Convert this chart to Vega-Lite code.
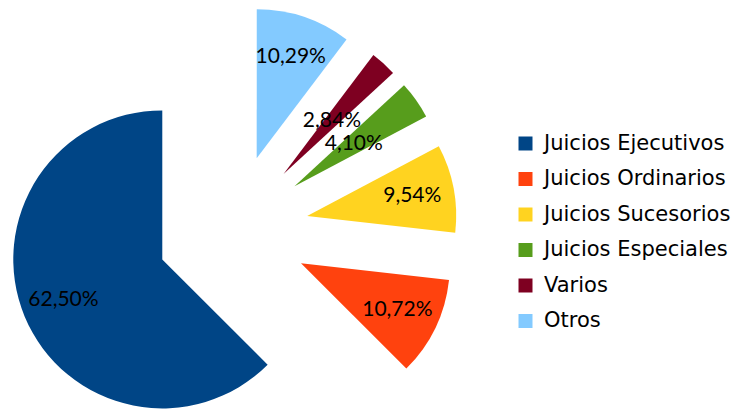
{
  "$schema": "https://vega.github.io/schema/vega-lite/v6.json",
  "width": 736,
  "height": 411,
  "padding": 0,
  "autosize": {"type": "none"},
  "background": "white",
  "config": {
    "view": {"stroke": null},
    "locale": {"number": {"decimal": ",", "thousands": ".", "grouping": [3], "currency": ["", " €"]}}
  },
  "data": {
    "values": [
      {"tipo": "Juicios Ejecutivos", "pct": 0.6250},
      {"tipo": "Juicios Ordinarios", "pct": 0.1072},
      {"tipo": "Juicios Sucesorios", "pct": 0.0954},
      {"tipo": "Juicios Especiales", "pct": 0.0410},
      {"tipo": "Varios", "pct": 0.0284},
      {"tipo": "Otros", "pct": 0.1029}
    ]
  },
  "transform": [
    {"stack": "pct", "groupby": [], "as": ["v0", "v1"]},
    {"calculate": "(datum.v0 + datum.v1) / 2", "as": "mid"},
    {"calculate": "-sin(2 * PI * datum.mid)", "as": "ex"},
    {"calculate": "cos(2 * PI * datum.mid)", "as": "ey"}
  ],
  "encoding": {
    "x": {"field": "ex", "type": "quantitative", "axis": null, "scale": {"domain": [-1, 1], "range": [156.5, 308.5], "nice": false, "zero": false}},
    "y": {"field": "ey", "type": "quantitative", "axis": null, "scale": {"domain": [-1, 1], "range": [306.3, 154.3], "nice": false, "zero": false}}
  },
  "layer": [
    {
      "mark": {"type": "arc", "radius": 149},
      "encoding": {
        "theta": {"field": "v0", "type": "quantitative", "stack": null, "scale": {"domain": [0, 1], "range": [6.283185307179586, 0]}},
        "theta2": {"field": "v1"},
        "color": {
          "field": "tipo",
          "type": "nominal",
          "scale": {
            "domain": ["Juicios Ejecutivos", "Juicios Ordinarios", "Juicios Sucesorios", "Juicios Especiales", "Varios", "Otros"],
            "range": ["#004586", "#ff420e", "#ffd320", "#579d1c", "#7e0021", "#83caff"]
          },
          "legend": {
            "orient": "none",
            "legendX": 515,
            "legendY": 133,
            "title": null,
            "symbolType": "square",
            "symbolSize": 196,
            "symbolStrokeWidth": 0,
            "labelFont": "DejaVu Sans",
            "labelFontSize": 21,
            "labelColor": "black",
            "labelOffset": 8,
            "labelLimit": 300,
            "rowPadding": 13.5,
            "padding": 0
          }
        }
      }
    },
    {
      "mark": {"type": "text", "font": "Lato", "fontSize": 21, "color": "black", "align": "center", "baseline": "middle"},
      "encoding": {
        "theta": {"field": "mid", "type": "quantitative", "stack": null},
        "radius": {"field": "pct", "type": "quantitative", "scale": {"type": "linear", "domain": [0.04, 0.095], "range": [72, 107], "clamp": true, "zero": false}},
        "text": {"field": "pct", "type": "quantitative", "format": ".2%"}
      }
    }
  ]
}
